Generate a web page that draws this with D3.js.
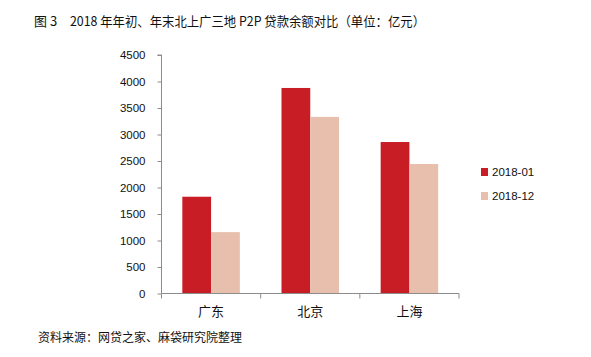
<!DOCTYPE html>
<html><head><meta charset="utf-8">
<script src="https://cdn.jsdelivr.net/npm/d3@7"></script>
<style>
body{margin:0;background:#fff;}
svg{display:block;}
text{font-family:"Noto Sans CJK SC","Noto Sans",sans-serif;fill:#111;}
</style></head><body>
<svg id="c" width="591" height="357"></svg>
<script>
const categories = ["广东","北京","上海"];
const seriesNames = ["2018-01","2018-12"];
const values2018_01 = [1826, 3878, 2858];
const values2018_12 = [1158, 3332, 2443];
const yTicks = [0,500,1000,1500,2000,2500,3000,3500,4000,4500];
const colors = ["#C81D25","#E8BFAD"];
const titleHead = "图 3";
const title = "2018 年年初、年末北上广三地 P2P 贷款余额对比（单位：亿元）";
const source = "资料来源：网贷之家、麻袋研究院整理";

(function(){
const svg = d3.select("#c");
const pl = 161.5, pr = 459, pt = 55, pb = 293.5;

const x0 = d3.scaleBand().domain(categories).range([pl, pr]).paddingInner(0.42).paddingOuter(0.21);
const x1 = d3.scaleBand().domain(seriesNames).range([0, x0.bandwidth()]);
const y = d3.scaleLinear().domain([0,4500]).range([pb, pt]);

const seriesVals = [values2018_01, values2018_12];

seriesNames.forEach((s,si)=>{
  svg.append("g").selectAll("rect").data(categories).join("rect")
    .attr("x", d=>x0(d)+x1(s))
    .attr("y", (d,i)=>y(seriesVals[si][i]))
    .attr("width", x1.bandwidth())
    .attr("height", (d,i)=>pb - y(seriesVals[si][i]))
    .attr("fill", colors[si]);
});

const yAxis = d3.axisLeft(y).tickValues(yTicks).tickFormat(d3.format("d")).tickSize(4).tickPadding(12);
const gy = svg.append("g").attr("transform",`translate(${pl},0)`).call(yAxis);
gy.select(".domain").attr("stroke","#8c8c8c").attr("d",`M-4,${pt}H0V${pb}`);
gy.selectAll(".tick line").attr("stroke","#8c8c8c");
gy.selectAll(".tick text").style("font-family","'Liberation Sans',Arial,sans-serif").style("font-size","11.5px").attr("fill","#222");

const gx = svg.append("g").attr("transform",`translate(0,${pb})`);
gx.append("line").attr("x1",pl).attr("x2",pr).attr("y1",0).attr("y2",0).attr("stroke","#8c8c8c");
const step = (pr-pl)/categories.length;
const bounds = d3.range(categories.length+1).map(i=>pl+i*step);
gx.selectAll("line.tk").data(bounds).join("line").attr("class","tk")
  .attr("x1",d=>d).attr("x2",d=>d).attr("y1",0).attr("y2",5).attr("stroke","#8c8c8c");
gx.selectAll("text").data(categories).join("text")
  .attr("x",d=>x0(d)+x0.bandwidth()/2).attr("y",22)
  .attr("text-anchor","middle").style("font-size","13px").text(d=>d);

const lg = svg.append("g");
seriesNames.forEach((s,i)=>{
  const yy = 168 + i*24;
  lg.append("rect").attr("x",481).attr("y",yy).attr("width",7).attr("height",8).attr("fill",colors[i]);
  lg.append("text").attr("x",492).attr("y",yy+8).style("font-family","'Liberation Sans',Arial,sans-serif").style("font-size","11.5px").text(s);
});

svg.append("text").attr("x",34).attr("y",26).style("font-size","13px").text(titleHead);
svg.append("text").attr("x",70).attr("y",26).style("font-size","13px")
  .attr("textLength",355).attr("lengthAdjust","spacingAndGlyphs").text(title);
svg.append("text").attr("x",38).attr("y",342).style("font-size","12px").text(source);
})();
</script>
</body></html>
